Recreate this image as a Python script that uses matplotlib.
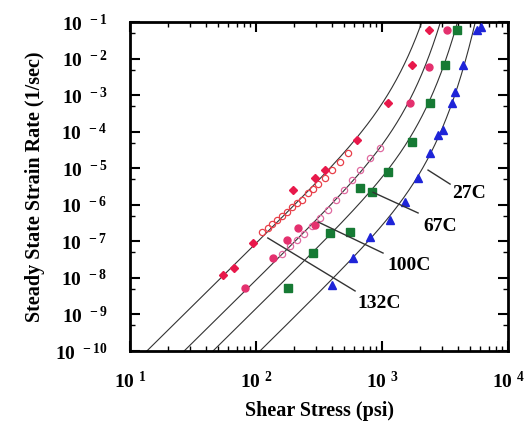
import numpy as np
import matplotlib
matplotlib.use("Agg")
import matplotlib.pyplot as plt
from matplotlib.ticker import FixedLocator, LogLocator, NullFormatter

plt.rcParams['font.family'] = ['Liberation Serif', 'DejaVu Serif']
plt.rcParams['font.weight'] = 'bold'
plt.rcParams['mathtext.fontset'] = 'custom'
plt.rcParams['mathtext.rm'] = 'Liberation Serif:bold'
plt.rcParams['mathtext.bf'] = 'Liberation Serif:bold'
plt.rcParams['mathtext.default'] = 'rm'

# fitted sinh-law lines: rate = 1e-10 * (tau0/s0)^n * sinh(tau/tau0)^n
temps = ["132C", "100C", "67C", "27C"]
fit_n = 3.4
fit_s0 = [13.6, 26.9, 45.6, 107.6]     # psi where the low-stress asymptote hits 1e-10
fit_tau0 = [740, 880, 1100, 1272]      # psi, knee of the sinh law

# 132C measured points
s132_fill = [55, 67, 95, 197, 294, 353, 634, 1117, 1730, 2360]
r132_fill = [1.2e-8, 1.9e-8, 9.1e-8, 2.5e-6, 5.4e-6, 8.9e-6, 5.9e-5, 6.0e-4, 6.6e-3, 6.0e-2]
s132_open = [112, 124, 134, 147, 161, 176, 193, 212, 232, 259, 283, 311, 353, 401, 464, 537]
r132_open = [1.8e-7, 2.3e-7, 3.0e-7, 3.8e-7, 4.9e-7, 6.4e-7, 8.7e-7, 1.1e-6, 1.4e-6,
             2.1e-6, 2.7e-6, 3.7e-6, 5.4e-6, 9.0e-6, 1.5e-5, 2.6e-5]

# 100C measured points
s100_fill = [82, 136, 176, 215, 294, 1667, 2360, 3280]
r100_fill = [5.3e-9, 3.5e-8, 1.1e-7, 2.3e-7, 2.8e-7, 6.0e-4, 5.9e-3, 6.0e-2]
s100_open = [161, 186, 212, 240, 278, 322, 372, 431, 499, 578, 668, 803, 964]
r100_open = [4.5e-8, 7.5e-8, 1.1e-7, 1.6e-7, 2.6e-7, 4.4e-7, 7.2e-7, 1.35e-6, 2.5e-6,
             4.8e-6, 9.0e-6, 1.9e-5, 3.6e-5]

# 67C measured points
s67 = [179, 283, 387, 557, 668, 834, 1117, 1730, 2404, 3162, 3937]
r67 = [5.3e-9, 4.8e-8, 1.7e-7, 1.8e-7, 2.9e-6, 2.2e-6, 7.9e-6, 5.2e-5, 6.0e-4, 6.6e-3, 6.0e-2]

# 27C measured points
s27 = [401, 589, 803, 1157, 1524, 1932, 2404, 2780, 3048, 3594, 3793, 4395, 5675, 6109]
r27 = [6.4e-9, 3.5e-8, 1.3e-7, 3.8e-7, 1.2e-6, 5.4e-6, 2.6e-5, 8.1e-5, 1.1e-4, 6.1e-4,
       1.2e-3, 6.7e-3, 6.0e-2, 7.3e-2]

# label leaders: (point on curve), (end of line), (text position)
lead_from = [(124, 1.24e-7), (311, 3.4e-7), (849, 2.2e-6), (2317, 8.95e-6)]
lead_to = [(611, 4.4e-9), (1018, 4.8e-8), (1932, 6.0e-7), (3467, 3.7e-6)]
lab_pos = [(634, 2.06e-9), (1096, 2.24e-8), (2115, 2.5e-7), (3597, 2.1e-6)]

fig = plt.figure(figsize=(5.32, 4.26), dpi=100)
ax = fig.add_axes([0.2444, 0.176, 0.7106, 0.772])

tau = np.logspace(1, 4, 600)
for s0, t0 in zip(fit_s0, fit_tau0):
    rate = 1e-10 * (t0 / s0) ** fit_n * np.sinh(tau / t0) ** fit_n
    ax.plot(tau, rate, color='#333333', lw=0.8, zorder=2)

ax.plot(s132_open, r132_open, 'o', ms=4.5, mfc='none', mec='#e8404a', mew=0.9, zorder=3)
ax.plot(s100_open, r100_open, 'o', ms=4.5, mfc='none', mec='#e06aa0', mew=0.9, zorder=3)
ax.plot(s132_fill, r132_fill, 'D', ms=4.5, color='#e8194b', zorder=4)
ax.plot(s100_fill, r100_fill, 'o', ms=5, color='#e4306e', zorder=4)
ax.plot(s67, r67, 's', ms=5.5, color='#167a34', zorder=4)
ax.plot(s27, r27, '^', ms=5.5, color='#1e24d8', zorder=4)

for t, p0, p1, pl in zip(temps, lead_from, lead_to, lab_pos):
    ax.plot([p0[0], p1[0]], [p0[1], p1[1]], color='#333333', lw=1.0, zorder=5)
    ax.text(pl[0], pl[1], t, fontsize=14, fontweight='bold', ha='left', va='center', zorder=6)

ax.set_xscale('log')
ax.set_yscale('log')
ax.set_xlim(10, 1e4)
ax.set_ylim(1e-10, 1e-1)

ax.xaxis.set_major_locator(FixedLocator([1e1, 1e2, 1e3, 1e4]))
ax.yaxis.set_major_locator(FixedLocator([10.0 ** k for k in range(-10, 0)]))
ax.set_xticklabels([r'$10^{\ %d}$' % k for k in range(1, 5)])
ax.set_yticklabels([r'$10^{\ %d}$' % k for k in range(-10, 0)])
ax.xaxis.set_minor_locator(LogLocator(base=10, subs=np.arange(2, 10), numticks=20))
ax.yaxis.set_minor_locator(LogLocator(base=10, subs=[5], numticks=20))
ax.xaxis.set_minor_formatter(NullFormatter())
ax.yaxis.set_minor_formatter(NullFormatter())

ax.tick_params(which='both', direction='in', top=True, right=True, labelsize=14)
ax.tick_params(which='major', length=7, width=1.5)
ax.tick_params(axis='y', which='major', pad=16)
ax.tick_params(axis='x', which='major', pad=14)
ax.tick_params(which='minor', length=3.5, width=1.0)
for sp in ax.spines.values():
    sp.set_linewidth(2)

ax.set_xlabel('Shear Stress (psi)', fontsize=14.5, fontweight='bold', labelpad=7)
ax.set_ylabel('Steady State Strain Rate (1/sec)', fontsize=14.5, fontweight='bold', labelpad=7)

fig.savefig('out.png', dpi=100)
